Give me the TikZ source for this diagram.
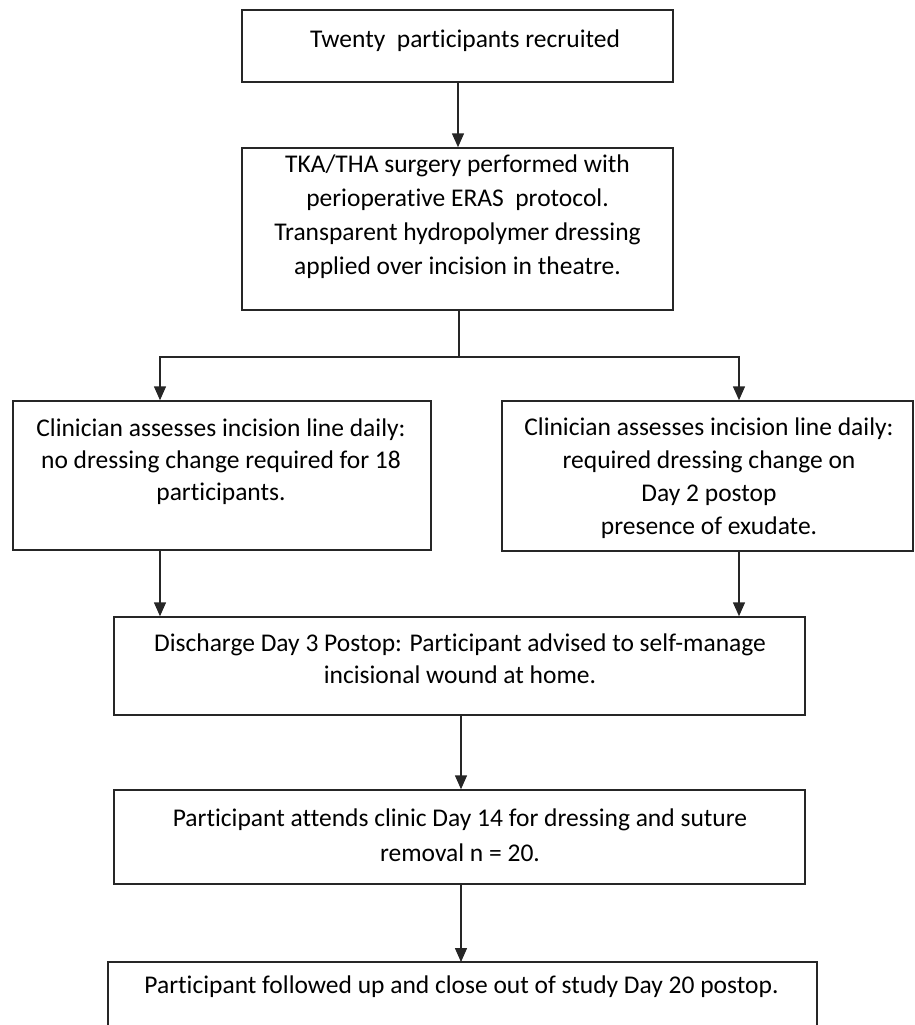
\documentclass[tikz,border=0pt]{standalone}
\usepackage{fontspec}
\setmainfont{Carlito}[Ligatures={NoCommon}]
\usetikzlibrary{arrows.meta}
\tikzset{
  box/.style={draw=black!85, line width=1.5pt, fill=none, inner sep=0pt},
  txt/.style={align=center, inner sep=0pt, text=black, font=\fontsize{25.5}{33}\selectfont},
  conn/.style={draw=black!85, line width=1.5pt},
  arr/.style={conn, -{Triangle[width=12pt,length=14pt]}}
}
\begin{document}
\begin{tikzpicture}[x=1pt,y=-1pt]
\useasboundingbox (0,0) rectangle (915,1025);
\fill[white] (0,0) rectangle (915,1025);
% boxes
\node[box, minimum width=431pt, minimum height=72pt] (b1) at (457.5,46) {};
\node[box, minimum width=431pt, minimum height=162pt] (b2) at (457.5,229) {};
\node[box, minimum width=418pt, minimum height=149pt] (b3) at (222,475.5) {};
\node[box, minimum width=411pt, minimum height=150pt] (b4) at (707.5,476) {};
\node[box, minimum width=691pt, minimum height=98pt] (b5) at (459.5,666) {};
\node[box, minimum width=691pt, minimum height=94pt] (b6) at (459.5,837) {};
\coordinate (b7nw) at (108,962);
\coordinate (b7ne) at (817,962);
\coordinate (b7sw) at (108,1035);
\coordinate (b7se) at (817,1035);
\draw[conn] (b7sw) -- (b7nw) -- (b7ne) -- (b7se);
\coordinate (b7n) at (461,962);
% texts
\node[txt] (t1) at (465,41) {Twenty\ \ participants recruited};
\node[txt, font=\fontsize{25.5}{34}\selectfont] (t2) at (457.5,217) {TKA/THA surgery performed with\\perioperative ERAS\ \ protocol.\\Transparent hydropolymer dressing\\applied over incision in theatre.};
\node[txt, font=\fontsize{25.5}{32}\selectfont] (t3) at (221,462) {Clinician assesses incision line daily:\\no dressing change required for 18\\participants.};
\node[txt] (t4) at (709,478) {Clinician assesses incision line daily:\\required dressing change on\\Day 2 postop\\presence of exudate.};
\node[txt, font=\fontsize{25.5}{32}\selectfont] (t5) at (460,659) {Discharge Day 3 Postop: Participant advised to self-manage\\incisional wound at home.};
\node[txt, font=\fontsize{25.5}{35}\selectfont] (t6) at (460,835) {Participant attends clinic Day 14 for dressing and suture\\removal n = 20.};
\node[txt] (t7) at (461.5,987) {Participant followed up and close out of study Day 20 postop.};
% connectors
\draw[arr] (b1.south -| 458,0) -- (b2.north -| 458,0);
\coordinate (split) at (459,357);
\coordinate (splitL) at (160,357);
\coordinate (splitR) at (739,357);
\draw[conn] (b2.south -| split) -- (split);
\draw[arr] (split) -- (splitL) -- (b3.north -| splitL);
\draw[arr] (split) -- (splitR) -- (b4.north -| splitR);
\draw[arr] (b3.south -| splitL) -- (b5.north -| splitL);
\draw[arr] (b4.south -| splitR) -- (b5.north -| splitR);
\draw[arr] (b5.south -| b7n) -- (b6.north -| b7n);
\draw[arr] (b6.south -| b7n) -- (b7n);
\end{tikzpicture}
\end{document}
